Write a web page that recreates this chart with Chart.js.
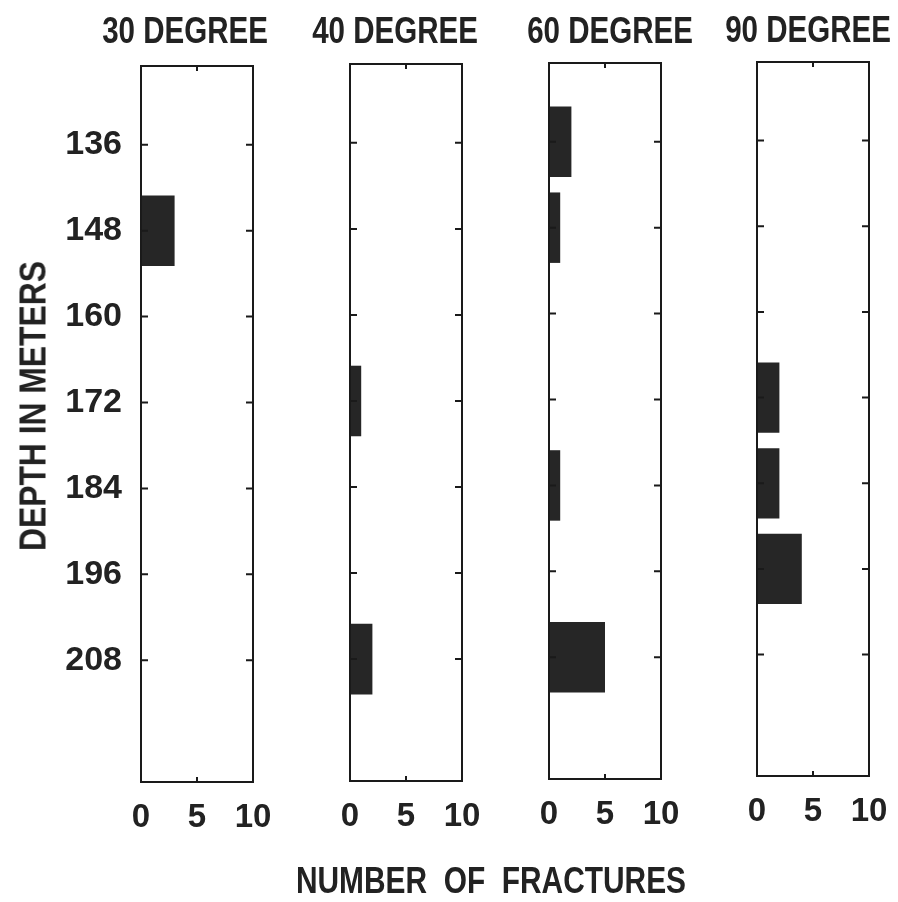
<!DOCTYPE html>
<html>
<head>
<meta charset="utf-8">
<script src="https://cdn.jsdelivr.net/npm/chart.js@4.4.1/dist/chart.umd.min.js"></script>
<style>
  html, body { margin: 0; padding: 0; background: #fff; }
  #wrap { position: relative; width: 898px; height: 902px; overflow: hidden; }
  #wrap canvas { position: absolute; left: 0; top: 0; }
  .lbl {
    position: absolute;
    font-family: 'Liberation Sans', Arial, sans-serif;
    font-weight: bold;
    font-size: 36px;
    line-height: 1;
    color: #222;
    white-space: pre;
    transform: translate(-50%, -50%) scaleX(0.82);
  }
  #ylab { left: 33px; top: 406px; font-size: 37px; transform: translate(-50%, -50%) rotate(-90deg) scaleX(0.86); }
  #xlab { left: 491px; top: 881px; transform: translate(-50%, -50%) scaleX(0.83); }
</style>
</head>
<body>
<div id="wrap">
  <canvas id="p30" width="898" height="902"></canvas>
  <canvas id="p40" width="898" height="902"></canvas>
  <canvas id="p60" width="898" height="902"></canvas>
  <canvas id="p90" width="898" height="902"></canvas>
  <div class="lbl" id="t30" style="left:185px;top:31px"></div>
  <div class="lbl" id="t40" style="left:395px;top:31px"></div>
  <div class="lbl" id="t60" style="left:610px;top:31px"></div>
  <div class="lbl" id="t90" style="left:808px;top:30px"></div>
  <div class="lbl" id="ylab">DEPTH IN METERS</div>
  <div class="lbl" id="xlab">NUMBER  OF  FRACTURES</div>
</div>
<script>
// Data
const depths = [136, 148, 160, 172, 184, 196, 208];
const deg30 = [0, 3, 0, 0, 0, 0, 0];
const deg40 = [0, 0, 0, 1, 0, 0, 2];
const deg60 = [2, 1, 0, 0, 1, 0, 5];
const deg90 = [0, 0, 0, 2, 2, 4, 0];
const xTicks = [0, 5, 10];
const panelTitles = ['30 DEGREE', '40 DEGREE', '60 DEGREE', '90 DEGREE'];

const FONT = "'Liberation Sans', Arial, sans-serif";
const INK = '#222';

// frame box + inward tick marks
const frameTicks = {
  id: 'frameTicks',
  afterDraw(chart) {
    const { ctx, chartArea: a, scales: { x, y } } = chart;
    ctx.save();
    ctx.strokeStyle = '#1a1a1a';
    ctx.lineWidth = 2;
    ctx.strokeRect(a.left, a.top, a.right - a.left, a.bottom - a.top);
    ctx.beginPath();
    y.ticks.forEach(t => {
      const py = y.getPixelForValue(t.value);
      ctx.moveTo(a.left, py); ctx.lineTo(a.left + 7, py);
      ctx.moveTo(a.right, py); ctx.lineTo(a.right - 7, py);
    });
    x.ticks.forEach(t => {
      if (t.value === xTicks[0] || t.value === xTicks[xTicks.length - 1]) return;
      const px = x.getPixelForValue(t.value);
      ctx.moveTo(px, a.top); ctx.lineTo(px, a.top + 5);
      ctx.moveTo(px, a.bottom); ctx.lineTo(px, a.bottom - 5);
    });
    ctx.stroke();
    ctx.restore();
  }
};

function makePanel(id, title, values, box, showDepths) {
  document.getElementById('t' + id.slice(1)).textContent = title;
  const yWidth = showDepths ? 81 : 0;
  const xHeight = 60;
  new Chart(document.getElementById(id), {
    type: 'bar',
    data: {
      datasets: [{
        data: depths.map((d, i) => ({ y: d, x: values[i] })),
        backgroundColor: '#262626',
        borderWidth: 0,
        barPercentage: 0.82,
        categoryPercentage: 1,
      }],
    },
    options: {
      responsive: false,
      animation: false,
      indexAxis: 'y',
      layout: {
        padding: {
          left: box.left - yWidth,
          right: 898 - box.right,
          top: box.top,
          bottom: 902 - box.bottom - xHeight,
        },
      },
      plugins: {
        legend: { display: false },
        tooltip: { enabled: false },
      },
      scales: {
        y: {
          type: 'linear',
          reverse: true,
          offset: false,
          min: 125,
          max: 225,
          grid: { display: false },
          border: { display: false },
          afterBuildTicks: s => { s.ticks = depths.map(v => ({ value: v })); },
          afterFit: s => { s.width = yWidth; },
          ticks: {
            display: showDepths,
            color: INK,
            padding: 11,
            font: { family: FONT, size: 34, weight: 'bold' },
          },
        },
        x: {
          type: 'linear',
          min: xTicks[0],
          max: xTicks[xTicks.length - 1],
          grid: { display: false },
          border: { display: false },
          afterBuildTicks: s => { s.ticks = xTicks.map(v => ({ value: v })); },
          afterFit: s => { s.height = xHeight; },
          ticks: {
            color: INK,
            padding: 8,
            maxRotation: 0,
            font: { family: FONT, size: 33, weight: 'bold' },
          },
        },
      },
    },
    plugins: [frameTicks],
  });
}

makePanel('p30', panelTitles[0], deg30, { left: 141, right: 253, top: 66, bottom: 782 }, true);
makePanel('p40', panelTitles[1], deg40, { left: 350, right: 462, top: 64, bottom: 781 }, false);
makePanel('p60', panelTitles[2], deg60, { left: 549, right: 661, top: 63, bottom: 779 }, false);
makePanel('p90', panelTitles[3], deg90, { left: 757, right: 869, top: 62, bottom: 776 }, false);
</script>
</body>
</html>
